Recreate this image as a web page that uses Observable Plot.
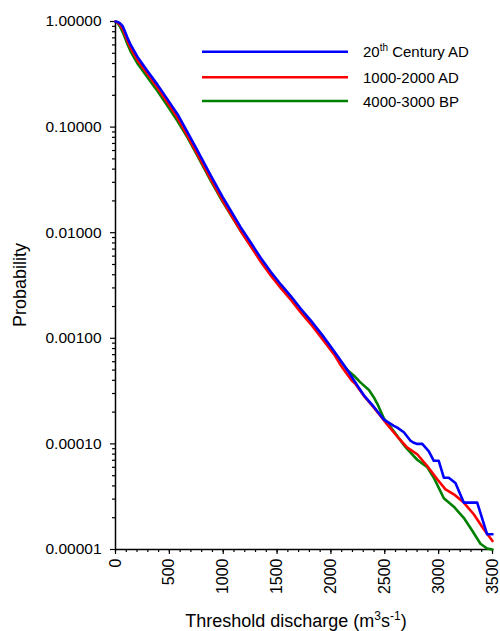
<!DOCTYPE html>
<html><head><meta charset="utf-8">
<script src="https://cdn.jsdelivr.net/npm/d3@7"></script>
<script src="https://cdn.jsdelivr.net/npm/@observablehq/plot@0.6"></script>
<style>body{margin:0;background:#fff;} #chart{width:500px;height:631px;}</style>
</head><body><div id="chart"></div>
<script>
const seriesNames = ["20th Century AD", "1000-2000 AD", "4000-3000 BP"];
const seriesColors = ["#0000ff", "#ff0000", "#008000"];

// Threshold discharge (m3/s) and log10(probability)
const blueX = [0,20,40,67,90,113,144,206,298,391,484,577,669,760,885,994,1040,1163,1260,1349,1441,1535,1627,1720,1812,1920,2028,2152,2260,2306,2399,2492,2584,2616,2677,2739,2770,2801,2848,2909,2955,3001,3048,3094,3156,3233,3358,3450,3500];
const blueLog10P = [0,-0.004,-0.015,-0.045,-0.10,-0.16,-0.227,-0.338,-0.47,-0.60,-0.74,-0.88,-1.05,-1.22,-1.46,-1.66,-1.74,-1.95,-2.10,-2.24,-2.37,-2.49,-2.60,-2.72,-2.83,-2.97,-3.12,-3.30,-3.47,-3.54,-3.65,-3.77,-3.83,-3.846,-3.89,-3.97,-3.99,-4.00,-4.00,-4.07,-4.16,-4.16,-4.32,-4.32,-4.37,-4.556,-4.556,-4.856,-4.856];

const redX = [0,20,40,67,90,113,144,206,298,391,484,577,669,760,885,994,1040,1163,1260,1349,1441,1535,1627,1720,1812,1920,2028,2100,2193,2229,2306,2399,2508,2616,2709,2801,2894,2987,3064,3141,3233,3326,3419,3500];
const redLog10P = [0,-0.01,-0.03,-0.07,-0.13,-0.19,-0.26,-0.37,-0.50,-0.63,-0.77,-0.915,-1.085,-1.255,-1.495,-1.695,-1.775,-1.985,-2.135,-2.275,-2.405,-2.525,-2.635,-2.755,-2.865,-3.005,-3.15,-3.27,-3.40,-3.434,-3.545,-3.656,-3.798,-3.93,-4.035,-4.098,-4.209,-4.335,-4.43,-4.477,-4.556,-4.666,-4.809,-4.92];

const greenX = [0,20,40,67,90,113,144,206,298,391,484,577,669,760,885,994,1040,1163,1260,1349,1441,1535,1627,1720,1812,1920,2028,2152,2220,2276,2353,2399,2431,2492,2584,2677,2709,2801,2894,2955,3048,3141,3233,3311,3388,3450,3500];
const greenLog10P = [0,-0.015,-0.045,-0.10,-0.16,-0.22,-0.29,-0.40,-0.53,-0.66,-0.80,-0.945,-1.10,-1.27,-1.51,-1.705,-1.78,-1.985,-2.13,-2.265,-2.39,-2.505,-2.615,-2.735,-2.845,-2.985,-3.13,-3.30,-3.36,-3.42,-3.49,-3.56,-3.62,-3.76,-3.88,-4.01,-4.05,-4.15,-4.22,-4.32,-4.515,-4.595,-4.70,-4.82,-4.945,-4.99,-5.0];

const xTicks = [0,500,1000,1500,2000,2500,3000,3500];
const yTicks = [0.00001,0.0001,0.001,0.01,0.1,1];
const xMinorTicks = d3.range(0, 3501, 100);
const yMinorTicks = [];
for (const d of [1e-5,1e-4,1e-3,1e-2,1e-1]) for (let m = 2; m <= 9; m++) yMinorTicks.push(d * m);

const toRows = (xs, logs, s) => xs.map((x, i) => ({x, p: Math.pow(10, logs[i]), s}));
const series = [
  toRows(greenX, greenLog10P, seriesNames[2]),
  toRows(redX, redLog10P, seriesNames[1]),
  toRows(blueX, blueLog10P, seriesNames[0])
];
const colorOf = Object.fromEntries(seriesNames.map((n, i) => [n, seriesColors[i]]));

const FONT = '"Liberation Sans", Arial, sans-serif';
const plot = Plot.plot({
  width: 500, height: 631,
  marginLeft: 115, marginRight: 8, marginTop: 21, marginBottom: 82,
  style: {fontFamily: FONT, background: "#fff", color: "#000", overflow: "visible"},
  x: {domain: [0, 3500]},
  y: {type: "log", domain: [1e-5, 1]},
  marks: [
    Plot.axisX(xMinorTicks, {tickSize: 3, tickFormat: () => "", label: null, strokeWidth: 1.2}),
    Plot.axisX(xTicks, {tickSize: 5, tickRotate: -90, tickPadding: 4, fontSize: 16, tickFormat: d3.format("d"), label: null, strokeWidth: 1.2}),
    Plot.axisY(yMinorTicks, {tickSize: 3, tickFormat: () => "", label: null, strokeWidth: 1.2}),
    Plot.axisY(yTicks, {tickSize: 5, tickPadding: 9, fontSize: 15.5, tickFormat: d3.format(".5f"), label: null, strokeWidth: 1.2}),
    Plot.ruleX([0], {stroke: "#000", strokeWidth: 1.5}),
    Plot.ruleY([1e-5], {stroke: "#000", strokeWidth: 1.5}),
    ...series.map(rows => Plot.line(rows, {x: "x", y: "p", stroke: colorOf[rows[0].s], strokeWidth: 2.6}))
  ]
});
document.getElementById("chart").appendChild(plot);

const svg = d3.select(plot);
// legend
const legY = [51.7, 77.3, 101];
seriesNames.forEach((name, i) => {
  svg.append("line").attr("x1", 202).attr("x2", 348).attr("y1", legY[i]).attr("y2", legY[i])
    .attr("stroke", seriesColors[i]).attr("stroke-width", 2.6);
  const t = svg.append("text").attr("x", 363).attr("y", legY[i] + 5.5).attr("text-anchor", "start")
    .attr("font-family", FONT).attr("font-size", 15).attr("fill", "#000");
  if (i === 0) {
    t.append("tspan").text("20");
    t.append("tspan").attr("dy", -6).attr("font-size", 10).text("th");
    t.append("tspan").attr("dy", 6).text(" Century AD");
  } else {
    t.text(name);
  }
});
// x axis title
const xt = svg.append("text").attr("x", 296).attr("y", 626.5).attr("text-anchor", "middle")
  .attr("font-family", FONT).attr("font-size", 18).attr("fill", "#000");
xt.append("tspan").text("Threshold discharge (m");
xt.append("tspan").attr("dy", -7).attr("font-size", 12).text("3");
xt.append("tspan").attr("dy", 7).text("s");
xt.append("tspan").attr("dy", -7).attr("font-size", 12).text("-1");
xt.append("tspan").attr("dy", 7).text(")");
// y axis title
svg.append("text").attr("transform", "translate(26,285) rotate(-90)").attr("text-anchor", "middle")
  .attr("font-family", FONT).attr("font-size", 18).attr("fill", "#000").text("Probability");
</script>
</body></html>
